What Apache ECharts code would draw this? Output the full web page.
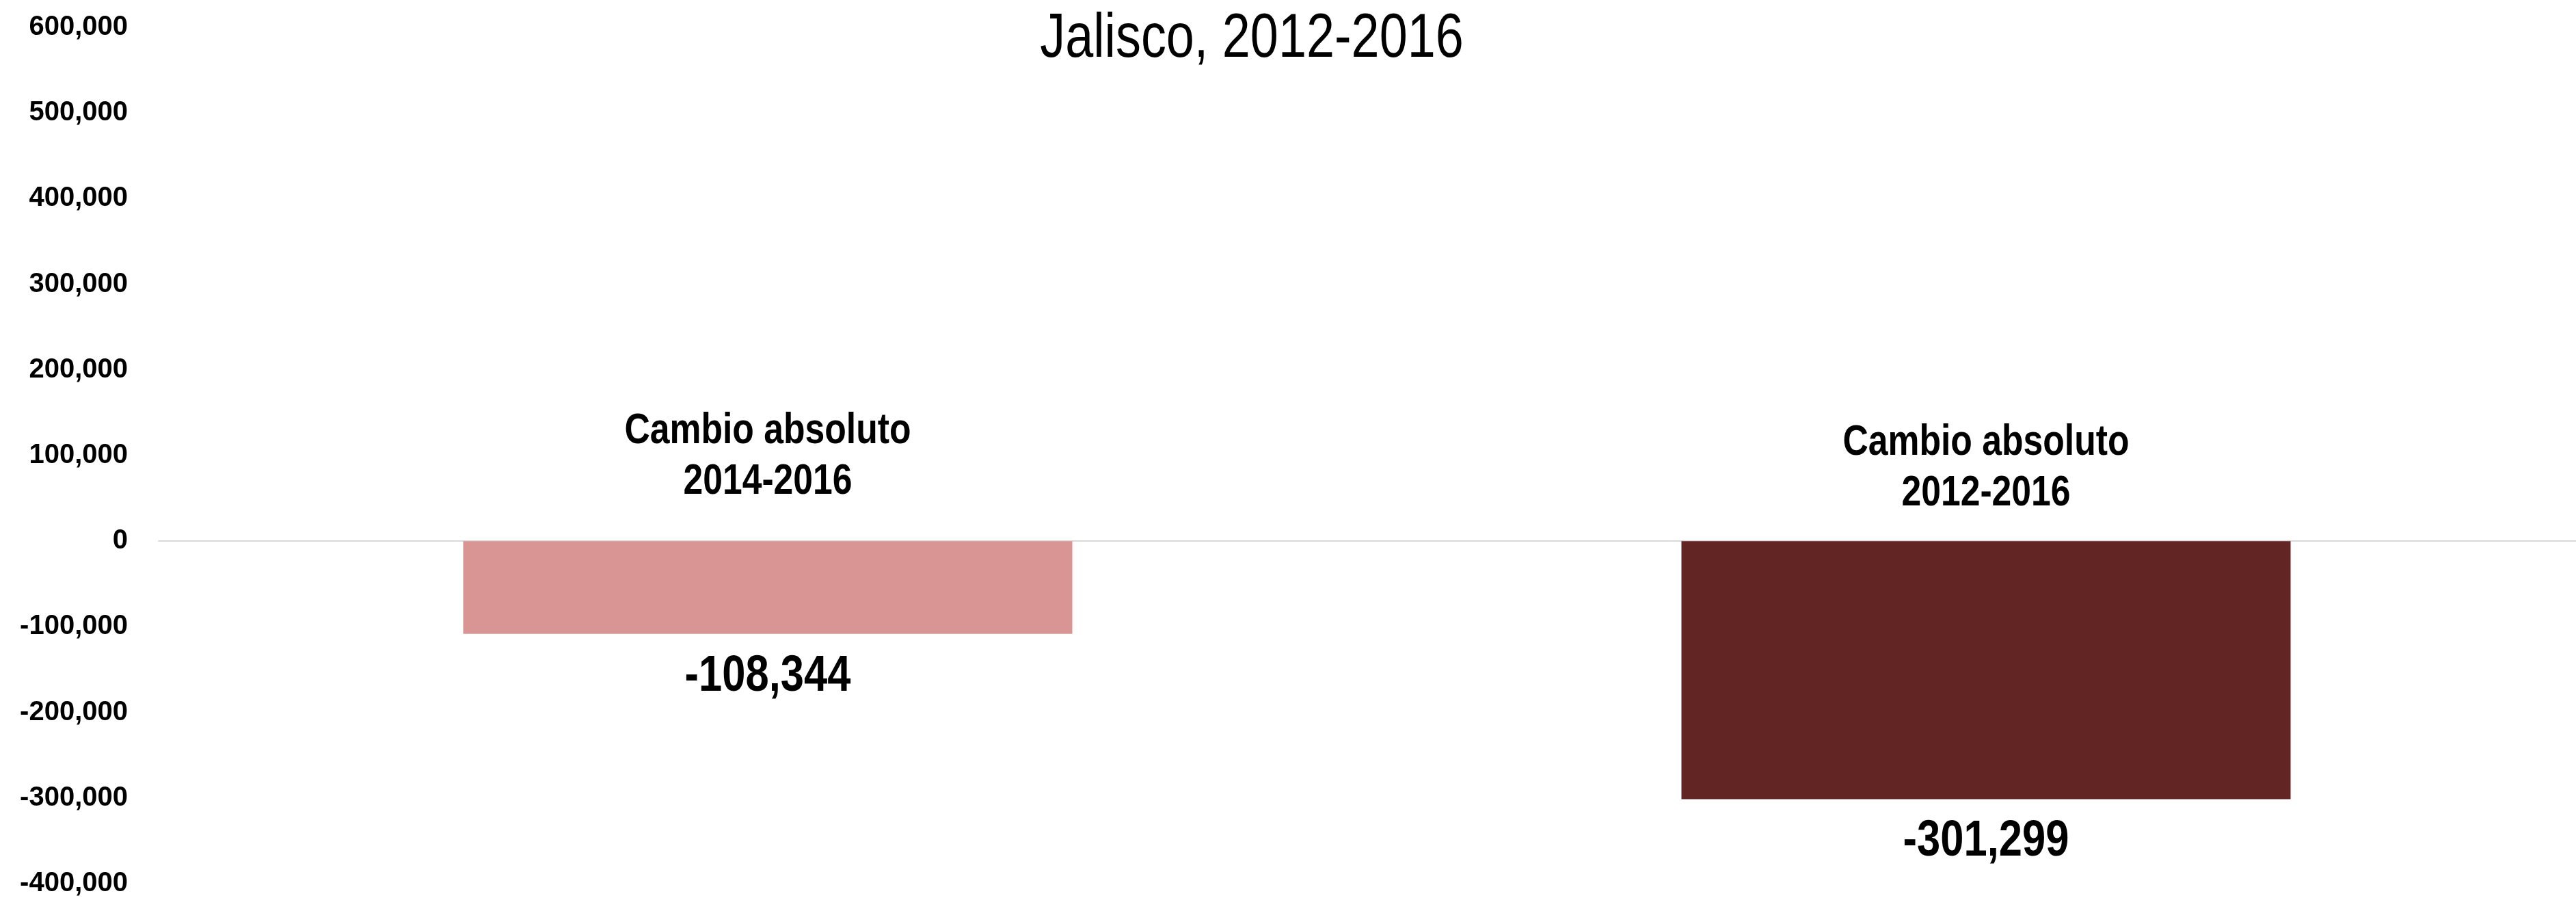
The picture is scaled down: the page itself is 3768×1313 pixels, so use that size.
<!DOCTYPE html>
<html>
<head>
<meta charset="utf-8">
<style>
html,body{margin:0;padding:0;background:#fff;}
#chart{width:3768px;height:1313px;}
</style>
<script src="https://cdn.jsdelivr.net/npm/echarts@6/dist/echarts.min.js"></script>
</head>
<body>
<div id="chart"></div>
<script>
// ---- data ----
const titleText = "Jalisco, 2012-2016";
const categories = ["Cambio absoluto\n2014-2016", "Cambio absoluto\n2012-2016"];
const values = [-108344, -301299];
const yTicks = [-400000, -300000, -200000, -100000, 0, 100000, 200000, 300000, 400000, 500000, 600000];

// ---- style ----
const barColors = ["#D99594", "#632523"];
const catLabelLift = [124, 107];   // px above the zero line (label block centre)
const valueLabelDrop = 62;         // px below the bar end (label centre)
const NARROW = 0.82;               // Arial Narrow ≈ Arial condensed to 82 %
const sans = "'Liberation Sans', Arial, sans-serif";
const fmt = v => Math.round(v).toLocaleString('en-US');

const chart = echarts.init(document.getElementById('chart'), null, {renderer: 'canvas'});
chart.setOption({
  animation: false,
  backgroundColor: '#ffffff',
  graphic: [{
    type: 'text',
    x: 1831,
    y: 58,
    scaleX: NARROW,
    style: {
      text: titleText,
      fill: '#000',
      font: 'normal 90px ' + sans,
      align: 'center',
      verticalAlign: 'middle'
    }
  }],
  grid: {left: 232, top: 40, width: 3564, bottom: 21, containLabel: false, outerBoundsMode: 'none'},
  xAxis: {
    type: 'category',
    data: categories,
    axisLine: {show: true, onZero: true, lineStyle: {color: '#d9d9d9', width: 2}},
    axisTick: {show: false},
    axisLabel: {show: false},
    splitLine: {show: false}
  },
  yAxis: {
    type: 'value',
    min: yTicks[0],
    max: yTicks[yTicks.length - 1],
    interval: yTicks[1] - yTicks[0],
    axisLine: {show: false},
    axisTick: {show: false},
    splitLine: {show: false},
    axisLabel: {
      margin: 45,
      formatter: v => fmt(v),
      fontFamily: sans,
      fontWeight: 'bold',
      fontSize: 40,
      color: '#000'
    }
  },
  series: [
    {
      type: 'bar',
      barWidth: '50%',
      data: values.map((v, i) => ({value: v, itemStyle: {color: barColors[i]}})),
      label: {show: false}
    },
    {
      // value labels under each bar (condensed text)
      type: 'custom',
      clip: false,
      z: 5,
      data: values.map((v, i) => [i, v]),
      renderItem: (params, api) => {
        const v = api.value(1);
        const pt = api.coord([api.value(0), v]);
        return {
          type: 'text',
          x: pt[0],
          y: pt[1] + valueLabelDrop,
          scaleX: NARROW,
          style: {
            text: fmt(v),
            fill: '#000',
            font: 'bold 75px ' + sans,
            align: 'center',
            verticalAlign: 'middle'
          }
        };
      }
    },
    {
      // category names above the zero line (condensed text)
      type: 'custom',
      clip: false,
      z: 5,
      data: categories.map((c, i) => [i, 0]),
      renderItem: (params, api) => {
        const i = params.dataIndex;
        const pt = api.coord([api.value(0), api.value(1)]);
        return {
          type: 'text',
          x: pt[0],
          y: pt[1] - catLabelLift[i],
          scaleX: NARROW,
          style: {
            text: categories[i],
            fill: '#000',
            font: 'bold 63px ' + sans,
            lineHeight: 74,
            align: 'center',
            verticalAlign: 'middle'
          }
        };
      }
    }
  ]
});
</script>
</body>
</html>
